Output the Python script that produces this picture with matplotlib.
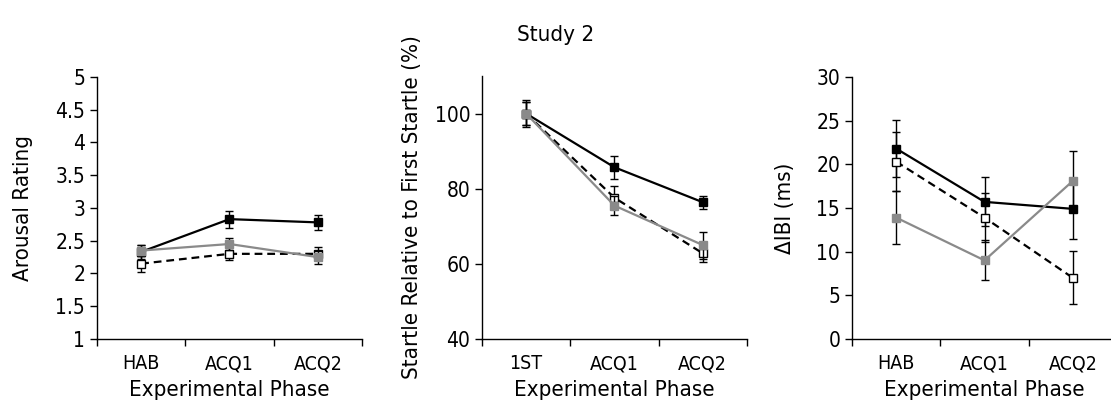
import numpy as np
import matplotlib
matplotlib.use("Agg")
import matplotlib.pyplot as plt

plt.rcParams['font.family'] = ['DejaVu Sans']
plt.rcParams['font.stretch'] = 'condensed'

# Arousal rating (panel 1)
phases_a = ["HAB", "ACQ1", "ACQ2"]
arousal_black = [2.33, 2.83, 2.78]
arousal_black_err = [0.11, 0.13, 0.12]
arousal_open = [2.15, 2.30, 2.30]
arousal_open_err = [0.12, 0.10, 0.10]
arousal_gray = [2.35, 2.45, 2.25]
arousal_gray_err = [0.08, 0.09, 0.10]

# Startle (panel 2)
phases_s = ["1ST", "ACQ1", "ACQ2"]
startle_black = [100.0, 85.7, 76.4]
startle_black_err = [3.5, 3.0, 1.7]
startle_open = [100.0, 77.6, 62.8]
startle_open_err = [3.0, 3.0, 2.4]
startle_gray = [100.0, 75.5, 65.0]
startle_gray_err = [3.0, 2.5, 3.6]

# Delta IBI (panel 3)
phases_h = ["HAB", "ACQ1", "ACQ2"]
ibi_black = [21.8, 15.7, 14.9]
ibi_black_err = [3.3, 2.8, 3.5]
ibi_open = [20.3, 13.9, 7.0]
ibi_open_err = [3.4, 2.8, 3.05]
ibi_gray = [13.9, 9.0, 18.1]
ibi_gray_err = [3.0, 2.3, 3.4]

GRAY = "#8a8a8a"


def draw_panel(ax, labels, black, black_err, opn, opn_err, gray, gray_err,
               ylim, yticks, ytick_labels, ylabel, label_x):
    x = np.arange(len(labels)) + 0.5
    eb = dict(ecolor="black", elinewidth=1.0, capsize=3.2, capthick=1.0)
    ax.errorbar(x, black, yerr=black_err, color="black", lw=1.6, marker="s",
                ms=6, mfc="black", mec="black", zorder=3, **eb)
    ax.errorbar(x, opn, yerr=opn_err, color="black", lw=1.6, ls=(0, (3.5, 2.2)),
                marker="s", ms=6, mfc="white", mec="black", mew=1.0, zorder=4, **eb)
    ax.errorbar(x, gray, yerr=gray_err, color=GRAY, lw=1.6, marker="s",
                ms=6, mfc=GRAY, mec=GRAY, zorder=5, **eb)
    ax.set_xlim(0, 3)
    ax.set_ylim(*ylim)
    ax.set_yticks(yticks)
    ax.set_yticklabels(ytick_labels)
    ax.set_xticks([0, 1, 2, 3])
    ax.set_xticklabels([])
    ax.set_xticks(x, minor=True)
    ax.set_xticklabels(labels, minor=True)
    ax.tick_params(axis="x", which="major", direction="out", length=5, width=1)
    ax.tick_params(axis="x", which="minor", length=0, pad=11, labelsize=14)
    ax.tick_params(axis="y", direction="out", length=5, width=1, labelsize=15)
    for side in ["top", "right"]:
        ax.spines[side].set_visible(False)
    for side in ["left", "bottom"]:
        ax.spines[side].set_linewidth(1.0)
    ax.set_xlabel("Experimental Phase", fontsize=16, labelpad=5)
    ax.set_ylabel(ylabel, fontsize=16)
    ax.yaxis.set_label_coords(label_x, 0.5)
    for c in ax.collections:
        c.set_clip_on(False)
    for l in ax.lines:
        l.set_clip_on(False)


fig = plt.figure(figsize=(11.11, 4.11), dpi=100)
w, h = 0.2385, 0.6375
ax1 = fig.add_axes([0.0873, 0.1752, w, h])
ax2 = fig.add_axes([0.4338, 0.1752, w, 0.6399])
ax3 = fig.add_axes([0.7669, 0.1752, w, h])

yt1 = [1, 1.5, 2, 2.5, 3, 3.5, 4, 4.5, 5]
draw_panel(ax1, phases_a, arousal_black, arousal_black_err, arousal_open,
           arousal_open_err, arousal_gray, arousal_gray_err,
           (1, 5), yt1, [f"{v:g}" for v in yt1], "Arousal Rating", -0.24)

yt2 = [40, 60, 80, 100]
draw_panel(ax2, phases_s, startle_black, startle_black_err, startle_open,
           startle_open_err, startle_gray, startle_gray_err,
           (40, 110), yt2, [str(v) for v in yt2],
           "Startle Relative to First Startle (%)", -0.225)

yt3 = [0, 5, 10, 15, 20, 25, 30]
draw_panel(ax3, phases_h, ibi_black, ibi_black_err, ibi_open,
           ibi_open_err, ibi_gray, ibi_gray_err,
           (0, 30), yt3, [str(v) for v in yt3], "ΔIBI (ms)", -0.215)

fig.text(0.5, 0.915, "Study 2", ha="center", va="center", fontsize=16)

fig.savefig("out.png", dpi=100)
